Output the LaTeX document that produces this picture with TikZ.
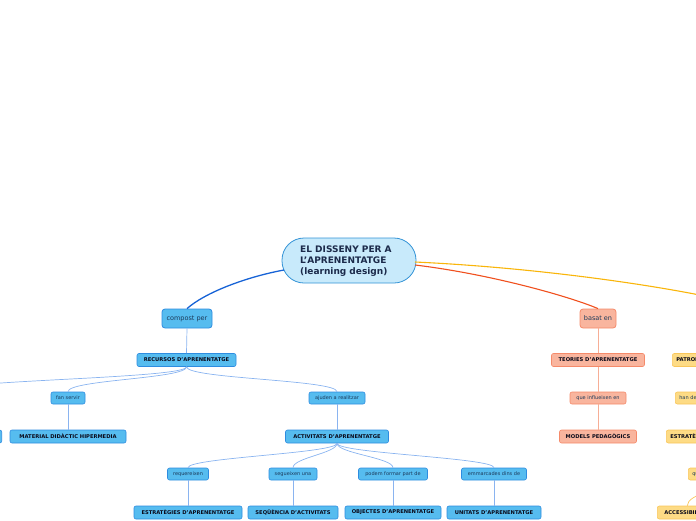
\documentclass[tikz,border=0pt]{standalone}
\usepackage{fontspec}
\setmainfont{DejaVu Sans}
\usetikzlibrary{calc}
\definecolor{rootfill}{HTML}{C8EAFB}
\definecolor{rootdraw}{HTML}{3393D6}
\definecolor{roottext}{HTML}{1B2A4A}
\definecolor{bfill}{HTML}{56BCEF}
\definecolor{bdraw}{HTML}{2E8CE0}
\definecolor{bconnc}{HTML}{8AB4F0}
\definecolor{bmain}{HTML}{1763D6}
\definecolor{sfill}{HTML}{F9B59E}
\definecolor{sdraw}{HTML}{F58A6A}
\definecolor{sconnc}{HTML}{F7AE96}
\definecolor{smain}{HTML}{F0501E}
\definecolor{yfill}{HTML}{FDDB85}
\definecolor{ydraw}{HTML}{F9C65A}
\definecolor{ymain}{HTML}{F9B50A}
\definecolor{labtext}{HTML}{1C3A5A}
\definecolor{leaftext}{HTML}{0A0A1A}
\begin{document}
\begin{tikzpicture}[x=1pt,y=-1pt,
  rootbox/.style={draw=rootdraw, fill=rootfill, line width=0.8pt, rounded corners=22pt,
    minimum width=134pt, minimum height=45pt, text=roottext, inner sep=0pt},
  topbox/.style={draw=#1, rounded corners=3pt, line width=0.8pt, minimum height=19pt,
    inner xsep=3pt, inner ysep=0pt, font=\fontsize{6.5}{7}\selectfont},
  labbox/.style={rounded corners=2pt, line width=0.6pt, minimum height=12pt,
    inner xsep=3pt, inner ysep=0pt, font=\fontsize{5}{6}\selectfont, text=labtext},
  leafbox/.style={rounded corners=2pt, line width=0.6pt, minimum height=13pt,
    inner xsep=3pt, inner ysep=0pt, font=\fontsize{5.2}{6}\selectfont\bfseries, text=leaftext},
  blab/.style={labbox, draw=bdraw, fill=bfill},
  bleaf/.style={leafbox, draw=bdraw, fill=bfill},
  slab/.style={labbox, draw=sdraw, fill=sfill},
  sleaf/.style={leafbox, draw=sdraw, fill=sfill},
  ylab/.style={labbox, draw=ydraw, fill=yfill},
  yleaf/.style={leafbox, draw=ydraw, fill=yfill},
  bconn/.style={draw=bconnc, line width=0.7pt},
  sconn/.style={draw=sconnc, line width=0.7pt},
  yconn/.style={draw=ydraw, line width=0.7pt}
]
\useasboundingbox (0,0) rectangle (696,520);
\clip (0,0) rectangle (696,520);

% root
\node[rootbox] (root) at (349,260.5) {};
\node[anchor=west, align=left, inner sep=0pt, text=roottext,
  font=\fontsize{9}{11}\selectfont\bfseries] (roottxt) at (300,261)
  {EL DISSENY PER A\\L'APRENENTATGE\\(learning design)};

% blue branch
\node[topbox=bdraw, fill=bfill, text=labtext, minimum width=50pt] (comp) at (187,318.5) {compost per};
\node[bleaf, minimum width=99pt] (rec) at (186.5,360) {RECURSOS D'APRENENTATGE};
\node[blab, minimum width=34pt] (fan) at (68,398) {fan servir};
\node[bleaf, minimum width=116pt] (mat) at (68,436.5) {MATERIAL DIDÀCTIC HIPERMEDIA};
\node[bleaf, minimum width=30pt, anchor=east] (offl) at (2,436.5) {};
\coordinate (offlab) at (-60,392);
\node[blab, minimum width=56pt] (ajud) at (337,398) {ajuden a realitzar};
\node[bleaf, minimum width=103pt] (act) at (337,436.5) {ACTIVITATS D'APRENENTATGE};
\node[blab, minimum width=41pt] (req) at (188,474) {requereixen};
\node[bleaf, minimum width=108pt] (estr) at (188,512.5) {ESTRATÈGIES D'APRENENTATGE};
\node[blab, minimum width=48pt] (seg) at (293,474) {segueixen una};
\node[bleaf, minimum width=90pt] (seq) at (293,512.5) {SEQÜÈNCIA D'ACTIVITATS};
\node[blab, minimum width=69pt] (pod) at (393,474) {podem formar part de};
\node[bleaf, minimum width=96pt] (obj) at (393,512.5) {OBJECTES D'APRENENTATGE};
\node[blab, minimum width=65pt] (emm) at (494,474) {emmarcades dins de};
\node[bleaf, minimum width=94pt] (uni) at (494,512.5) {UNITATS D'APRENENTATGE};

% salmon branch
\node[topbox=sdraw, fill=sfill, text=labtext, minimum width=36pt] (bas) at (598,318.5) {basat en};
\node[sleaf, minimum width=93pt] (teo) at (598,360) {TEORIES D'APRENENTATGE};
\node[slab, minimum width=56pt] (infl) at (598,398) {que influeixen en};
\node[sleaf, minimum width=77pt] (mod) at (598,436.5) {MODELS PEDAGÒGICS};

% yellow branch (mostly outside the frame)
\coordinate (yel) at (760,309);
\node[yleaf, anchor=west, minimum width=100pt, text width=92pt, align=left] (pat) at (672,360) {PATRONS D'APRENENTATGE};
\node[ylab, anchor=west, minimum width=94pt, text width=86pt, align=left] (han) at (675,398) {han de considerar};
\node[yleaf, anchor=west, minimum width=112pt, text width=104pt, align=left] (estr2) at (666,436.5) {ESTRATÈGIES};
\node[ylab, anchor=west, minimum width=68pt, text width=60pt, align=left] (que) at (688,474) {que garanteixin};
\node[yleaf, anchor=west, minimum width=60pt] (acc) at (657,512.5) {ACCESSIBILITAT};

% main connectors
\draw[bmain, line width=1.3pt] ($(root.center)+(-65,9.5)$) .. controls +(-38,7) and +(18,-16) .. (comp.north);
\draw[smain, line width=1.1pt] ($(root.center)+(66,4.5)$) .. controls +(75,9) and +(-28,-12) .. (bas.north);
\draw[ymain, line width=1.1pt] ($(root.center)+(66,1.5)$) .. controls +(130,6) and +(-70,-20) .. (yel);

% blue connectors
\draw[bconn] (comp.south) -- (rec.north);
\draw[bconn] (rec.south) .. controls +(0,12) and +(0,-12) .. (fan.north);
\draw[bconn] (rec.south) .. controls +(0,12) and +(0,-12) .. (offlab);
\draw[bconn] (rec.south) .. controls +(0,12) and +(0,-12) .. (ajud.north);
\draw[bconn] (fan.south) -- (mat.north);
\draw[bconn] (ajud.south) -- (act.north);
\draw[bconn] (act.south) .. controls +(0,10) and +(0,-10) .. (req.north);
\draw[bconn] (act.south) .. controls +(0,10) and +(0,-10) .. (seg.north);
\draw[bconn] (act.south) .. controls +(0,10) and +(0,-10) .. (pod.north);
\draw[bconn] (act.south) .. controls +(0,10) and +(0,-10) .. (emm.north);
\draw[bconn] (req.south) -- (estr.north);
\draw[bconn] (seg.south) -- (seq.north);
\draw[bconn] (pod.south) -- (obj.north);
\draw[bconn] (emm.south) -- (uni.north);

% salmon connectors
\draw[sconn] (bas.south) -- (teo.north);
\draw[sconn] (teo.south) -- (infl.north);
\draw[sconn] (infl.south) -- (mod.north);

% yellow connectors
\draw[yconn] (pat.south) -- (han.north);
\draw[yconn] (han.south) -- (estr2.north);
\draw[yconn] (estr2.south) -- (que.north);
\draw[yconn] (que.south) .. controls +(0,10) and +(0,-12) .. (acc.north);
\end{tikzpicture}
\end{document}
